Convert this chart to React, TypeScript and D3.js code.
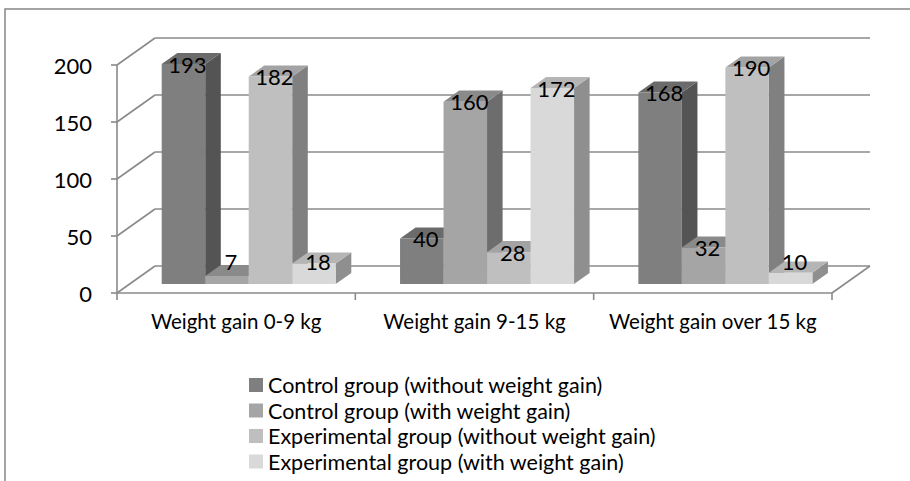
import React from 'react';
import * as d3 from 'd3';

const CATEGORIES = ['Weight gain 0-9 kg', 'Weight gain 9-15 kg', 'Weight gain over 15 kg'];
const SERIES = [
  'Control group (without weight gain)',
  'Control group (with weight gain)',
  'Experimental group (without weight gain)',
  'Experimental group (with weight gain)',
];
const CONTROL_WITHOUT = [193, 40, 168];
const CONTROL_WITH = [7, 160, 32];
const EXP_WITHOUT = [182, 28, 190];
const EXP_WITH = [18, 172, 10];
const Y_TICKS = [0, 50, 100, 150, 200];

const FRONT = ['#7f7f7f', '#a5a5a5', '#bfbfbf', '#d9d9d9'];
const SIDE = ['#545454', '#6d6d6d', '#808080', '#8f8f8f'];
const TOP = ['#6b6b6b', '#8a8a8a', '#a3a3a3', '#b5b5b5'];

const FONT = 'Lato, "Open Sans", sans-serif';
const GRID = '#8a8a8a';

const App = () => {
  const values = [CONTROL_WITHOUT, CONTROL_WITH, EXP_WITHOUT, EXP_WITH];

  // floor: front edge y=293, depth shift (38,-27)
  const x0 = 117, x1 = 832, baseY = 293, depthX = 38, depthY = -27;
  const h = d3.scaleLinear().domain([0, 200]).range([0, 228]);
  const proj = (x: number, v: number, d: number): [number, number] => [x + depthX * d, baseY + depthY * d - h(v)];

  const xCat = d3.scaleBand<string>().domain(CATEGORIES).range([x0, x1]);
  const groupW = 174;
  const xSer = d3.scaleBand<number>().domain([0, 1, 2, 3])
    .range([(xCat.bandwidth() - groupW) / 2, (xCat.bandwidth() + groupW) / 2]);
  const dFront = 0.33, dBack = 0.74;

  const pts = (arr: [number, number][]) => arr.map(p => p.join(',')).join(' ');

  const bars: JSX.Element[] = [];
  const labels: JSX.Element[] = [];
  CATEGORIES.forEach((c, ci) => {
    values.forEach((vals, si) => {
      const v = vals[ci];
      const xl = (xCat(c) as number) + (xSer(si) as number);
      const xr = xl + xSer.bandwidth();
      const fbl = proj(xl, 0, dFront), fbr = proj(xr, 0, dFront);
      const ftl = proj(xl, v, dFront), ftr = proj(xr, v, dFront);
      const btl = proj(xl, v, dBack), btr = proj(xr, v, dBack), bbr = proj(xr, 0, dBack);
      bars.push(
        <g key={`b${ci}-${si}`}>
          <polygon points={pts([fbr, ftr, btr, bbr])} fill={SIDE[si]} />
          <polygon points={pts([ftl, ftr, btr, btl])} fill={TOP[si]} />
          <polygon points={pts([fbl, fbr, ftr, ftl])} fill={FRONT[si]} />
        </g>
      );
      const ly = Math.min(ftl[1], 261);
      labels.push(
        <text key={`l${ci}-${si}`} x={(ftl[0] + ftr[0]) / 2 + 4} y={ly} textAnchor="middle"
          dominantBaseline="central" fontSize={22} fill="#000">{v}</text>
      );
    });
  });

  return (
    <svg width={910} height={481} style={{position: 'absolute', left: 0, top: 0}} fontFamily={FONT}>
      <rect x={0} y={0} width={910} height={481} fill="#fff" />
      <rect x={5} y={9} width={910} height={490} fill="none" stroke="#868686" strokeWidth={1.5} />

      {/* back wall gridlines and side wall */}
      {Y_TICKS.map(t => {
        const a = proj(x0, t, 0), b = proj(x0, t, 1), e = proj(x1, t, 1);
        return (
          <g key={`g${t}`} stroke={GRID} strokeWidth={1.6} fill="none">
            <line x1={a[0]} y1={a[1]} x2={b[0]} y2={b[1]} />
            <line x1={b[0]} y1={b[1]} x2={e[0]} y2={e[1]} />
          </g>
        );
      })}
      {/* floor */}
      {(() => {
        const fl = proj(x0, 0, 0), fr = proj(x1, 0, 0), br = proj(x1, 0, 1);
        return (
          <g stroke={GRID} strokeWidth={1.6} fill="none">
            <line x1={fl[0]} y1={fl[1]} x2={fr[0]} y2={fr[1]} />
            <line x1={fr[0]} y1={fr[1]} x2={br[0]} y2={br[1]} />
          </g>
        );
      })()}
      {/* y axis */}
      <line x1={x0} y1={baseY} x2={x0} y2={baseY - h(200)} stroke={GRID} strokeWidth={1.6} />
      {Y_TICKS.map(t => (
        <g key={`yt${t}`}>
          <line x1={x0 - 6} x2={x0} y1={baseY - h(t)} y2={baseY - h(t)} stroke={GRID} strokeWidth={1.6} />
          <text x={92} y={baseY - h(t)} textAnchor="end" dominantBaseline="central" fontSize={22} fill="#000">{t}</text>
        </g>
      ))}
      {/* x axis ticks */}
      {[...CATEGORIES.map(c => xCat(c) as number), x1].map((x, i) => (
        <line key={`xt${i}`} x1={x} x2={x} y1={baseY} y2={baseY + 7} stroke={GRID} strokeWidth={1.6} />
      ))}
      {CATEGORIES.map(c => (
        <text key={c} x={(xCat(c) as number) + xCat.bandwidth() / 2} y={321} textAnchor="middle"
          dominantBaseline="central" fontSize={20.5} fill="#000">{c}</text>
      ))}

      {bars}
      {labels}

      {/* legend */}
      {SERIES.map((s, i) => (
        <g key={s} transform={`translate(249, ${385 + i * 25.5})`}>
          <rect x={0} y={-7} width={14} height={14} fill={FRONT[i]} />
          <text x={19} y={0} dominantBaseline="central" fontSize={21.5} fill="#000">{s}</text>
        </g>
      ))}
    </svg>
  );
};

export default App;
